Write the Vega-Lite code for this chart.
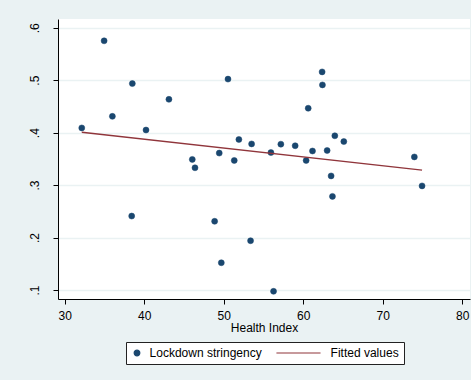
{
  "$schema": "https://vega.github.io/schema/vega-lite/v6.json",
  "width": 412,
  "height": 280,
  "autosize": {"type": "none"},
  "padding": {"left": 58, "top": 19, "right": 1, "bottom": 81},
  "background": "#EAF2F3",
  "datasets": {
    "countries": [
      {"health": 32.14, "stringency": 0.409},
      {"health": 34.95, "stringency": 0.575},
      {"health": 35.99, "stringency": 0.431},
      {"health": 38.42, "stringency": 0.241},
      {"health": 38.5, "stringency": 0.4935},
      {"health": 40.22, "stringency": 0.405},
      {"health": 43.1, "stringency": 0.4635},
      {"health": 46.04, "stringency": 0.349},
      {"health": 46.38, "stringency": 0.333},
      {"health": 48.85, "stringency": 0.231},
      {"health": 49.43, "stringency": 0.361},
      {"health": 49.69, "stringency": 0.152},
      {"health": 50.53, "stringency": 0.502},
      {"health": 51.32, "stringency": 0.347},
      {"health": 51.9, "stringency": 0.387},
      {"health": 53.37, "stringency": 0.194},
      {"health": 53.5, "stringency": 0.3785},
      {"health": 55.93, "stringency": 0.362},
      {"health": 56.26, "stringency": 0.0975},
      {"health": 57.18, "stringency": 0.378},
      {"health": 58.98, "stringency": 0.375},
      {"health": 60.36, "stringency": 0.347},
      {"health": 60.62, "stringency": 0.4465},
      {"health": 61.16, "stringency": 0.365},
      {"health": 62.37, "stringency": 0.5158},
      {"health": 62.41, "stringency": 0.491},
      {"health": 63.0, "stringency": 0.366},
      {"health": 63.5, "stringency": 0.3175},
      {"health": 63.67, "stringency": 0.2785},
      {"health": 63.97, "stringency": 0.394},
      {"health": 65.1, "stringency": 0.383},
      {"health": 73.97, "stringency": 0.3537},
      {"health": 74.94, "stringency": 0.2985}
    ],
    "fit": [
      {"health": 32.14, "fitted": 0.4007},
      {"health": 74.94, "fitted": 0.3284}
    ]
  },
  "config": {
    "view": {"stroke": null, "fill": "white"},
    "font": "Liberation Sans",
    "axis": {
      "domainColor": "black",
      "domainWidth": 1,
      "tickColor": "black",
      "tickSize": 5,
      "tickWidth": 1,
      "labelColor": "black",
      "labelFontSize": 12,
      "labelFont": "Liberation Sans",
      "titleFont": "Liberation Sans",
      "titleFontSize": 12,
      "titleFontWeight": "normal",
      "titleColor": "black"
    },
    "legend": {
      "title": null,
      "orient": "none",
      "legendX": 68,
      "legendY": 323,
      "direction": "horizontal",
      "strokeColor": "#222222",
      "fillColor": "white",
      "padding": 5,
      "labelFontSize": 12,
      "labelFont": "Liberation Sans",
      "labelColor": "black",
      "columnPadding": 12,
      "labelOffset": 6.6,
      "symbolSize": 32,
      "symbolStrokeWidth": 1.2,
      "symbolOpacity": 1
    }
  },
  "layer": [
    {
      "data": {"name": "countries"},
      "mark": {"type": "point", "filled": false, "opacity": 1, "strokeWidth": 0.5, "size": 36},
      "encoding": {
        "x": {
          "field": "health",
          "type": "quantitative",
          "title": "Health Index",
          "scale": {"domain": [29.15, 80.97], "nice": false, "zero": false},
          "axis": {
            "values": [30, 40, 50, 60, 70, 80],
            "grid": false,
            "labelPadding": 6,
            "titlePadding": 1
          }
        },
        "y": {
          "field": "stringency",
          "type": "quantitative",
          "title": null,
          "scale": {"domain": [0.0829, 0.6166], "nice": false, "zero": false},
          "axis": {
            "values": [0.1, 0.2, 0.3, 0.4, 0.5, 0.6],
            "grid": true,
            "gridColor": "#EAF2F3",
            "gridWidth": 1.5,
            "labelAngle": -90,
            "labelAlign": "center",
            "labelBaseline": "alphabetic",
            "labelPadding": 15,
            "labelExpr": "slice(format(datum.value, '.1f'), 1)"
          }
        },
        "color": {
          "datum": "Lockdown stringency",
          "type": "nominal",
          "scale": {
            "domain": ["Lockdown stringency", "Fitted values"],
            "range": ["#1A476F", "#90353B"]
          }
        },
        "fill": {
          "datum": "Lockdown stringency",
          "type": "nominal",
          "scale": {
            "domain": ["Lockdown stringency", "Fitted values"],
            "range": ["#1A476F", "transparent"]
          }
        },
        "shape": {
          "datum": "Lockdown stringency",
          "type": "nominal",
          "scale": {
            "domain": ["Lockdown stringency", "Fitted values"],
            "range": ["circle", "M-14.7,0H0.9"]
          }
        }
      }
    },
    {
      "data": {"name": "fit"},
      "mark": {"type": "line", "strokeWidth": 1.3, "color": "#90353B"},
      "encoding": {
        "x": {"field": "health", "type": "quantitative"},
        "y": {"field": "fitted", "type": "quantitative"}
      }
    }
  ]
}
